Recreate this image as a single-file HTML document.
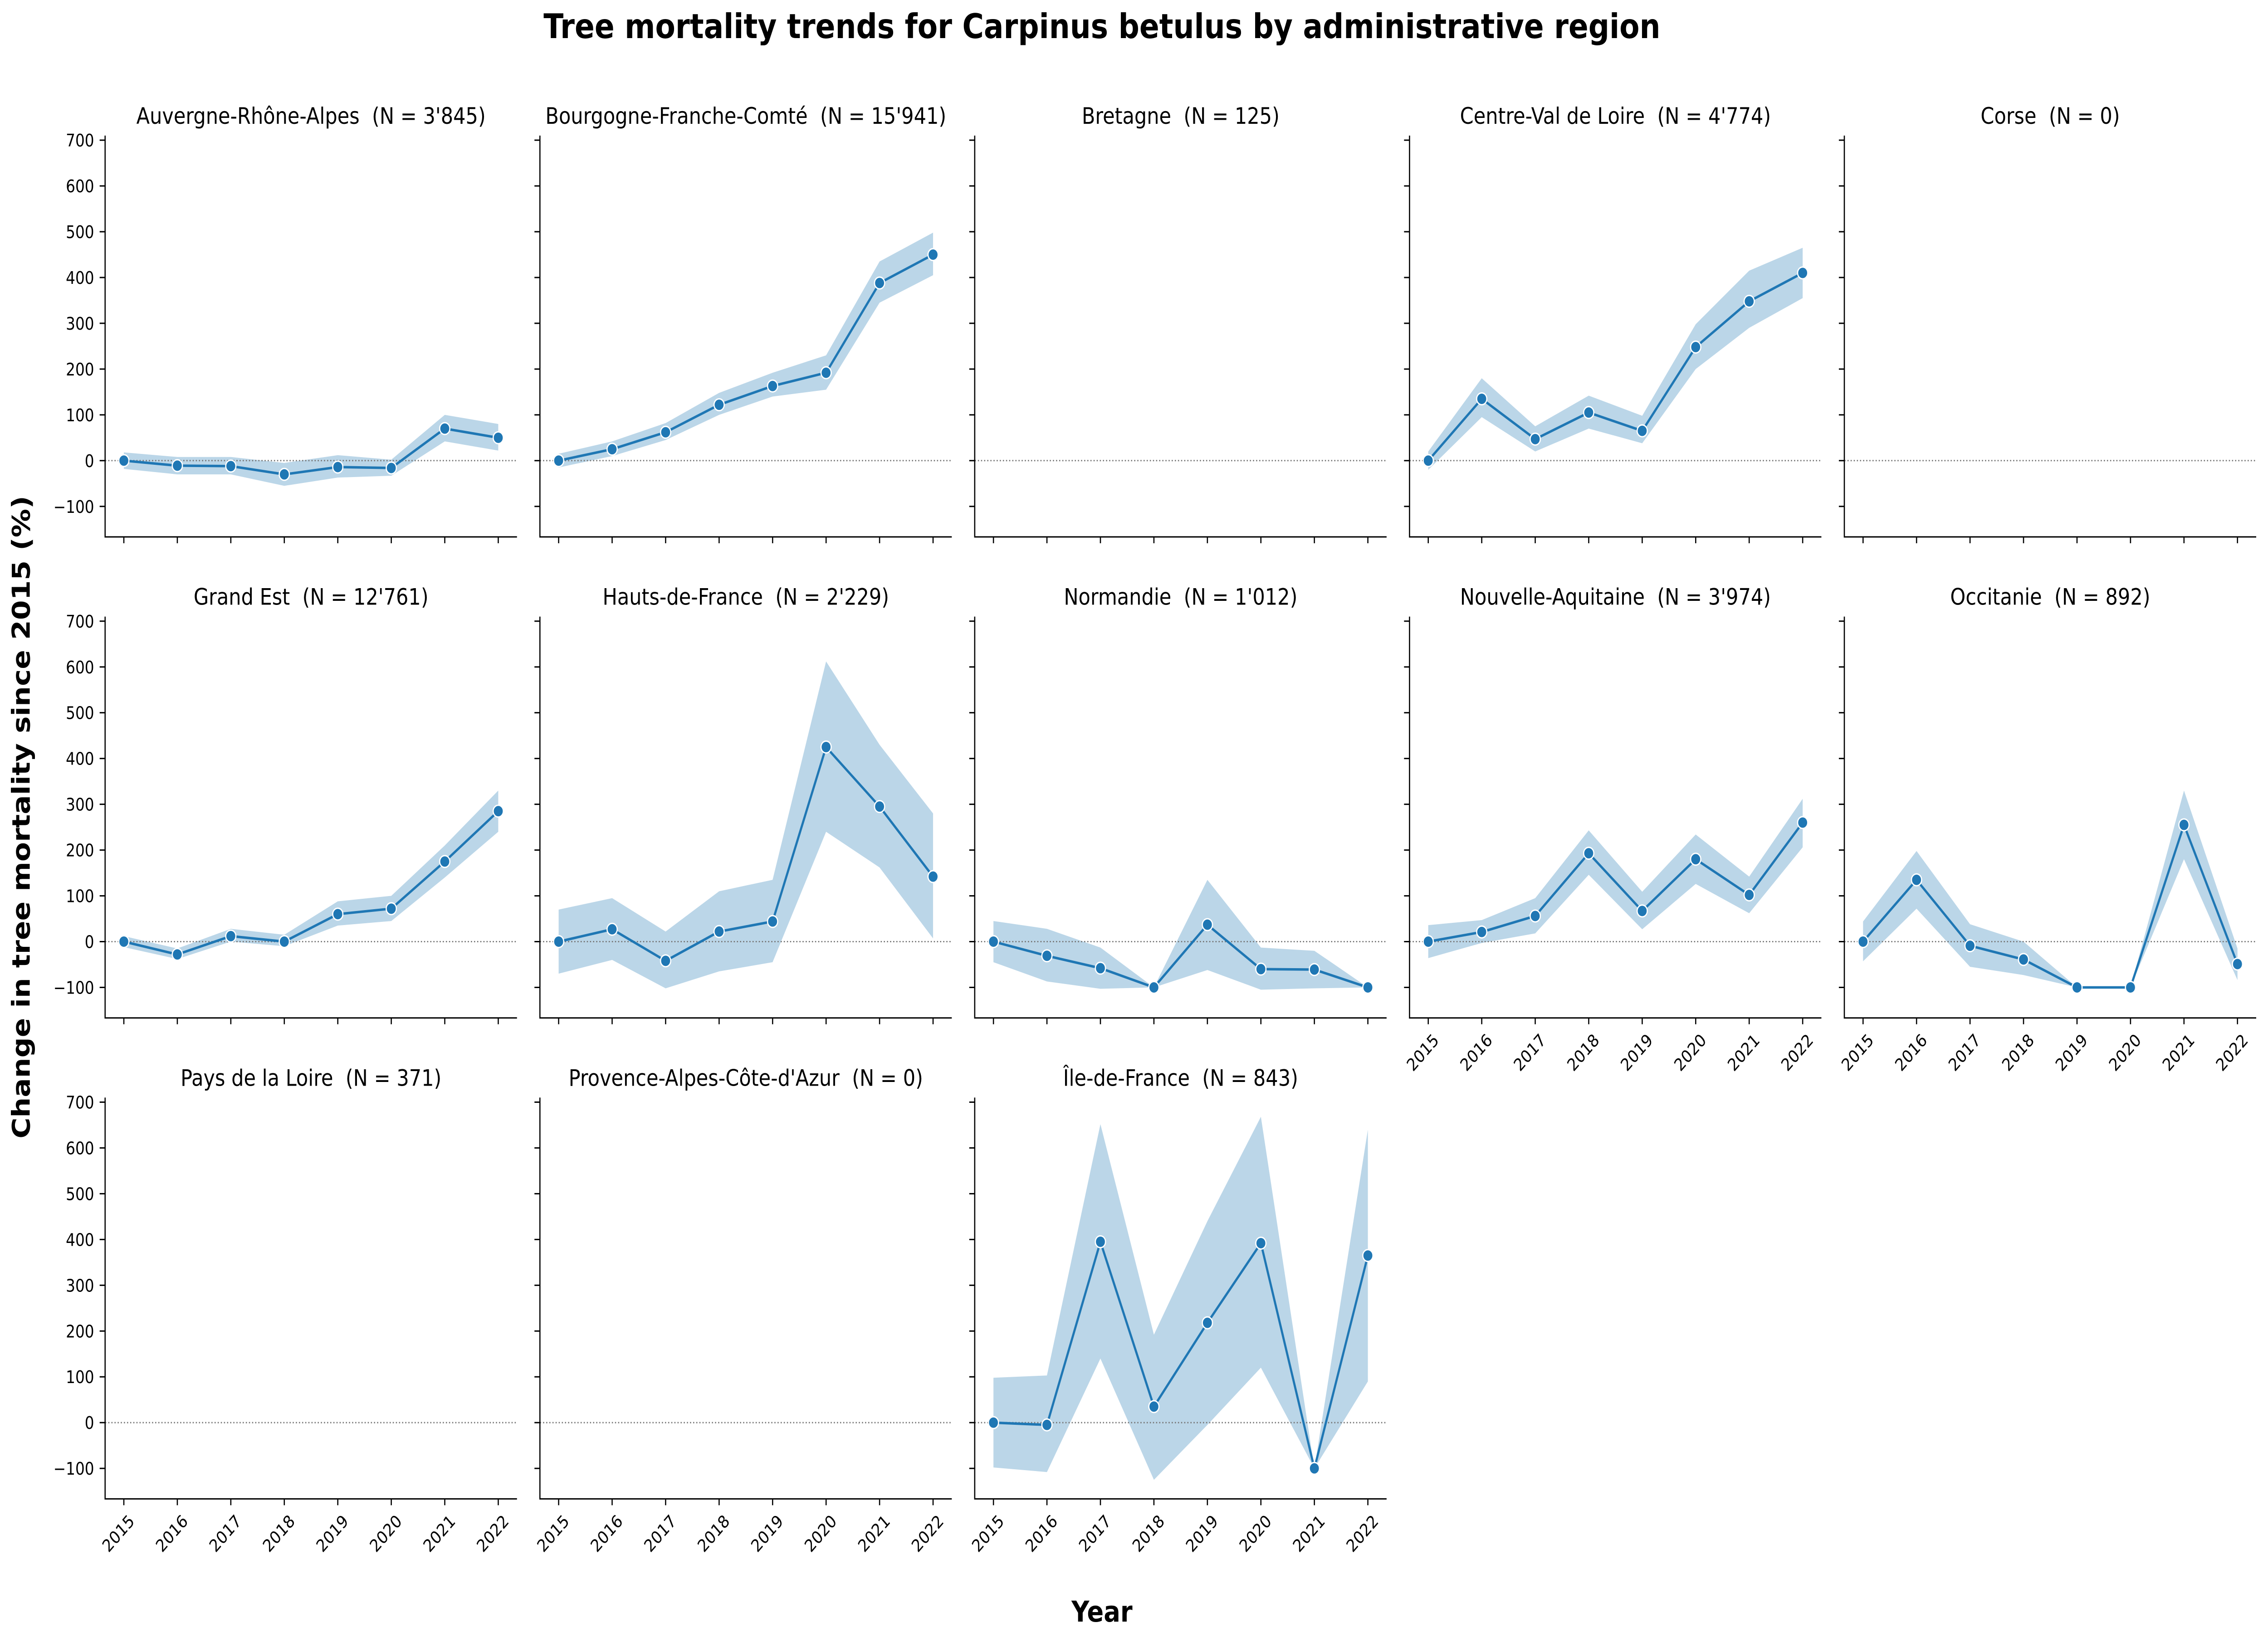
<!DOCTYPE html>
<html><head><meta charset="utf-8">
<style>
html,body{margin:0;padding:0;background:#fff;overflow:hidden;width:100vw;height:100vh;}
svg{display:block;font-family:"DejaVu Sans","Liberation Sans",sans-serif;width:100vw;height:100vh;}
</style></head>
<body>
<svg id="chart" xmlns="http://www.w3.org/2000/svg" viewBox="0 0 5804 3621" preserveAspectRatio="none">
<rect width="5804" height="3621" fill="#fff"/>
<text x="2820" y="84" text-anchor="middle" font-size="75" font-weight="bold">Tree mortality trends for Carpinus betulus by administrative region</text>
<text x="2820" y="3576" text-anchor="middle" font-size="63" font-weight="bold">Year</text>
<text transform="translate(76,1802) rotate(-90)" text-anchor="middle" font-size="63" font-weight="bold">Change in tree mortality since 2015 (%)</text>
<g id="panels"></g>
</svg>
<script>
const years = [2015, 2016, 2017, 2018, 2019, 2020, 2021, 2022];
const yTicks = [-100, 0, 100, 200, 300, 400, 500, 600, 700];
const regionNames = ["Auvergne-Rhône-Alpes", "Bourgogne-Franche-Comté", "Bretagne", "Centre-Val de Loire", "Corse", "Grand Est", "Hauts-de-France", "Normandie", "Nouvelle-Aquitaine", "Occitanie", "Pays de la Loire", "Provence-Alpes-Côte-d'Azur", "Île-de-France"];
const regionCounts = ["3'845", "15'941", "125", "4'774", "0", "12'761", "2'229", "1'012", "3'974", "892", "371", "0", "843"];

const auraMean = [0, -11, -12, -30, -14, -16, 70, 50];
const auraLo = [-18, -30, -30, -55, -37, -33, 42, 22];
const auraHi = [18, 8, 8, -5, 12, 2, 100, 80];
const bfcMean = [0, 25, 62, 122, 163, 192, 388, 450];
const bfcLo = [-15, 10, 45, 100, 140, 155, 345, 405];
const bfcHi = [15, 42, 82, 148, 192, 230, 435, 498];
const cvlMean = [0, 135, 47, 105, 65, 248, 348, 410];
const cvlLo = [-20, 95, 20, 70, 38, 200, 290, 355];
const cvlHi = [20, 180, 75, 142, 98, 298, 415, 465];
const geMean = [0, -28, 12, 0, 60, 72, 175, 285];
const geLo = [-12, -38, 0, -10, 35, 45, 140, 240];
const geHi = [12, -15, 28, 15, 88, 100, 210, 330];
const hdfMean = [0, 27, -42, 22, 44, 425, 295, 142];
const hdfLo = [-70, -40, -102, -65, -45, 240, 162, 7];
const hdfHi = [70, 95, 22, 110, 135, 612, 430, 280];
const normMean = [0, -31, -58, -100, 37, -60, -61, -100];
const normLo = [-45, -87, -103, -100, -62, -105, -102, -100];
const normHi = [45, 28, -13, -100, 135, -13, -20, -100];
const naMean = [0, 21, 56, 193, 67, 180, 102, 260];
const naLo = [-36, -3, 18, 146, 27, 126, 62, 206];
const naHi = [36, 47, 95, 243, 109, 234, 142, 312];
const occMean = [0, 135, -9, -39, -100, -100, 255, -49];
const occLo = [-43, 72, -55, -73, -100, -100, 180, -84];
const occHi = [44, 198, 38, 0, -100, -100, 330, -15];
const idfMean = [0, -5, 395, 35, 218, 392, -100, 365];
const idfLo = [-98, -108, 140, -125, -5, 120, -100, 90];
const idfHi = [98, 103, 652, 192, 440, 668, -100, 640];

const seriesByRegion = [
  [auraMean, auraLo, auraHi], [bfcMean, bfcLo, bfcHi], null, [cvlMean, cvlLo, cvlHi], null,
  [geMean, geLo, geHi], [hdfMean, hdfLo, hdfHi], [normMean, normLo, normHi], [naMean, naLo, naHi], [occMean, occLo, occHi],
  null, null, [idfMean, idfLo, idfHi]
];

const NS = "http://www.w3.org/2000/svg";
const X0 = 269, DX = 1112.7, W = 1054, Y0 = 299, DY = 1060.7, H = 885;
const XMIN = 2014.65, XMAX = 2022.35, YMIN = -166.6, YMAX = 710;
const root = document.getElementById("panels");
function mk(tag, attrs, parent) {
  const e = document.createElementNS(NS, tag);
  for (const k in attrs) e.setAttribute(k, attrs[k]);
  parent.appendChild(e);
  return e;
}
function slug(s) { return s.normalize("NFD").replace(/[\u0300-\u036f]/g, "").toLowerCase().replace(/[^a-z0-9]+/g, "-").replace(/^-|-$/g, ""); }

regionNames.forEach((name, i) => {
  const col = i % 5, row = Math.floor(i / 5);
  const left = X0 + col * DX, top = Y0 + row * DY;
  const xs = v => left + (v - XMIN) / (XMAX - XMIN) * W;
  const ys = v => top + (YMAX - v) / (YMAX - YMIN) * H;
  const g = mk("g", {}, root);
  
  
  const t = mk("text", {x: left + W / 2, y: top - 26, "text-anchor": "middle", "font-size": "50"}, g);
  t.textContent = name + "\u00a0\u00a0(N = " + regionCounts[i] + ")";
  
  
  const ser = seriesByRegion[i];
  if (ser) {
    const [m, lo, hi] = ser;
    let d = "";
    years.forEach((yr, k) => { d += (k ? "L" : "M") + xs(yr) + "," + ys(hi[k]); });
    for (let k = years.length - 1; k >= 0; k--) d += "L" + xs(years[k]) + "," + ys(lo[k]);
    const band = mk("path", {d: d + "Z", fill: "#1f77b4", "fill-opacity": "0.3"}, g);
    
    
  }
  const zl = mk("line", {x1: left, x2: left + W, y1: ys(0), y2: ys(0), stroke: "#777", "stroke-width": "3", "stroke-dasharray": "3,5"}, g);
  
  
  if (ser) {
    const [m] = ser;
    const pts = years.map((yr, k) => xs(yr) + "," + ys(m[k])).join(" ");
    const pl = mk("polyline", {points: pts, fill: "none", stroke: "#1f77b4", "stroke-width": "5.5", "stroke-linejoin": "round"}, g);
    
    
    years.forEach((yr, k) => {
      const c = mk("circle", {cx: xs(yr), cy: ys(m[k]), r: "13", fill: "#1f77b4", stroke: "#fff", "stroke-width": "3"}, g);
      
      
    });
  }
  const ax = mk("path", {d: "M" + left + "," + top + "V" + (top + H) + "H" + (left + W), fill: "none", stroke: "#000", "stroke-width": "3"}, g);
  
  
  yTicks.forEach(v => {
    mk("line", {x1: left - 14, x2: left, y1: ys(v), y2: ys(v), stroke: "#000", "stroke-width": "3"}, g);
    if (col === 0) {
      const tl = mk("text", {x: left - 28, y: ys(v) + 14, "text-anchor": "end", "font-size": "38"}, g);
      tl.textContent = v < 0 ? "\u2212" + Math.abs(v) : String(v);
      
      
    }
  });
  const bottomRow = (row === 2) || (row === 1 && col >= 3);
  years.forEach(yr => {
    mk("line", {x1: xs(yr), x2: xs(yr), y1: top + H, y2: top + H + 14, stroke: "#000", "stroke-width": "3"}, g);
    if (bottomRow) {
      const tx = xs(yr) + 10, ty = top + H + 32;
      const tl = mk("text", {x: tx, y: ty, "text-anchor": "end", "font-size": "38", transform: "rotate(-45 " + tx + " " + ty + ")", "dominant-baseline": "hanging"}, g);
      tl.textContent = String(yr);
      
      
    }
  });
});
</script>
</body></html>
